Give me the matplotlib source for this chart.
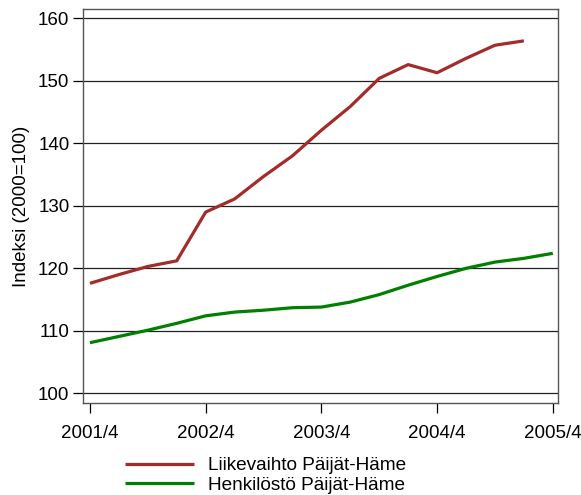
import matplotlib
matplotlib.use("Agg")
import matplotlib.pyplot as plt

plt.rcParams['font.family'] = ['Liberation Sans', 'DejaVu Sans']

quarters = ["2001/4", "2002/1", "2002/2", "2002/3", "2002/4", "2003/1", "2003/2", "2003/3",
            "2003/4", "2004/1", "2004/2", "2004/3", "2004/4", "2005/1", "2005/2", "2005/3", "2005/4"]
liikevaihto = [117.6, 119.0, 120.3, 121.2, 129.0, 131.1, 134.7, 138.0,
               142.1, 145.9, 150.4, 152.6, 151.3, 153.6, 155.7, 156.4]
henkilosto = [108.1, 109.1, 110.1, 111.2, 112.4, 113.0, 113.3, 113.7,
              113.8, 114.6, 115.8, 117.3, 118.7, 120.0, 121.0, 121.6, 122.4]
xtick_labels = ["2001/4", "2002/4", "2003/4", "2004/4", "2005/4"]
yticks = [100, 110, 120, 130, 140, 150, 160]
labels = ["Liikevaihto Päijät-Häme", "Henkilöstö Päijät-Häme"]

fig = plt.figure(figsize=(5.81, 4.95), dpi=100)
ax = fig.add_axes([83.3/581, 1-402.7/495, (558.3-83.3)/581, (402.7-9.3)/495])

x_all = list(range(len(quarters)))
l1, = ax.plot(x_all[:len(liikevaihto)], liikevaihto, color="#a52a2a", lw=2.3, solid_capstyle='butt')
l2, = ax.plot(x_all[:len(henkilosto)], henkilosto, color="#008000", lw=2.3, solid_capstyle='butt')

ax.set_xlim(-0.23, 16.19)
ax.set_ylim(98.5, 161.45)
ax.set_yticks(yticks)
ax.set_yticklabels([str(v) for v in yticks])
ax.set_xticks([quarters.index(q) for q in xtick_labels])
ax.set_xticklabels(xtick_labels)
ax.yaxis.grid(True, color="#222222", lw=0.9)
ax.set_axisbelow(True)
for s in ax.spines.values():
    s.set_color("#555555")
    s.set_linewidth(1.0)
ax.tick_params(axis='both', labelsize=13.5, colors="black", length=7, width=0.9)
ax.tick_params(axis='y', pad=3)
ax.tick_params(axis='x', pad=9)
ax.set_ylabel("Indeksi (2000=100)", fontsize=13.5, labelpad=6)

fs = 13.7
fig.legend([l1, l2], labels, loc='upper left', bbox_to_anchor=(125/581, 1-457/495),
           frameon=False, fontsize=fs, handlelength=3.65, handletextpad=0.72,
           labelspacing=0.12, borderaxespad=0, borderpad=0)

fig.savefig("out.png", dpi=100)
